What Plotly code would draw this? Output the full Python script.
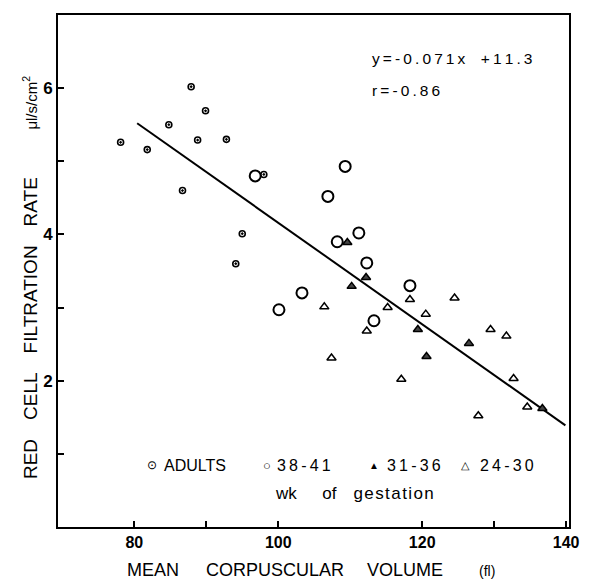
import plotly.graph_objects as go

# Adults
adult_x = [78.1, 81.8, 84.8, 87.9, 89.9, 88.8, 92.8, 86.7, 98.0, 95.0, 94.1]
adult_y = [5.26, 5.16, 5.50, 6.02, 5.69, 5.29, 5.30, 4.60, 4.82, 4.01, 3.60]

# 38-41 wk
term_x = [96.8, 109.3, 106.9, 111.2, 108.2, 112.3, 103.3, 100.1, 113.3, 118.3]
term_y = [4.80, 4.93, 4.52, 4.02, 3.90, 3.61, 3.20, 2.97, 2.82, 3.30]

# 31-36 wk
mid_x = [109.6, 110.2, 112.2, 119.4, 126.5, 136.7, 120.6]
mid_y = [3.89, 3.29, 3.41, 2.70, 2.51, 1.62, 2.33]

# 24-30 wk
pre_x = [106.4, 115.2, 112.3, 107.4, 118.3, 124.5, 120.5, 129.5, 131.7, 117.1, 132.7, 134.6, 127.8]
pre_y = [3.01, 3.00, 2.68, 2.31, 3.11, 3.13, 2.91, 2.70, 2.61, 2.02, 2.03, 1.64, 1.52]

# regression line endpoints
line_x = [80.4, 139.9]
line_y = [5.52, 1.39]

x_tickvals = [80, 100, 120, 140]
x_ticktext = ["<b>80</b>", "<b>100</b>", "<b>120</b>", "<b>140</b>"]
x_minor = [90, 130]
y_tickvals = [2, 4, 6]
y_ticktext = ["<b>2</b>", "<b>4</b>", "<b>6</b>"]
y_minor = [1, 3, 5]

FONT = "Liberation Sans, Arial, sans-serif"
EM, EN, TH = "\u2003", "\u2002", "\u2009"


def spaced(s, gap=TH):
    return gap.join(list(s))


fig = go.Figure()
fig.add_trace(go.Scatter(x=line_x, y=line_y, mode="lines",
                         line=dict(color="black", width=2), showlegend=False))
fig.add_trace(go.Scatter(x=adult_x, y=adult_y, mode="markers", name="ADULTS",
                         marker=dict(symbol="circle-dot", size=6, color="white",
                                     line=dict(color="black", width=1.6))))
fig.add_trace(go.Scatter(x=term_x, y=term_y, mode="markers", name="38-41",
                         marker=dict(symbol="circle-open", size=11, color="black",
                                     line=dict(width=2))))
fig.add_trace(go.Scatter(x=mid_x, y=mid_y, mode="markers", name="31-36",
                         marker=dict(symbol="triangle-up", size=8, color="#444",
                                     line=dict(color="black", width=1.5))))
fig.add_trace(go.Scatter(x=pre_x, y=pre_y, mode="markers", name="24-30",
                         marker=dict(symbol="triangle-up-open", size=8, color="black",
                                     line=dict(width=1.5))))

axis_common = dict(ticks="inside", ticklen=6, tickwidth=1.5, tickcolor="black",
                   showgrid=False, zeroline=False, showline=True, linewidth=2,
                   linecolor="black", mirror=True, automargin=False)

# page has an 8px body margin, so the figure is sized/offset to compensate
fig.update_layout(
    width=584, height=574,
    margin=dict(l=50, r=23, t=7, b=55),
    paper_bgcolor="white", plot_bgcolor="white",
    showlegend=False,
    font=dict(family=FONT, color="black", size=15),
    xaxis=dict(range=[69.4, 140.4], tickvals=x_tickvals, ticktext=x_ticktext,
               minor=dict(tickvals=x_minor, ticks="inside", ticklen=6, tickwidth=1.5,
                          tickcolor="black", showgrid=False),
               tickfont=dict(size=16, family=FONT), **axis_common),
    yaxis=dict(range=[0, 7], tickvals=y_tickvals, ticktext=y_ticktext,
               minor=dict(tickvals=y_minor, ticks="inside", ticklen=6, tickwidth=1.5,
                          tickcolor="black", showgrid=False),
               tickfont=dict(size=17, family=FONT), **axis_common),
)

xtitle = ("MEAN" + EM + EN + "CORPUSCULAR" + EM + " " + "VOLUME" + EM + EM
          + "<span style='font-size:14px'>(fl)</span>")
ytitle = ("RED" + EM + "CELL" + EM + "FILTRATION" + EM + "RATE" + EM + EM + EN
          + "<span style='font-size:15px'>\u03bcl/s/cm<sup>2</sup></span>")

annos = [
    dict(x=0.495, y=-0.084, text=xtitle, xanchor="center", yanchor="middle", font=dict(size=18)),
    dict(x=-0.055, y=0.488, text=ytitle, textangle=-90, xanchor="center", yanchor="middle",
         font=dict(size=19)),
    dict(x=0.61, y=0.916, text=spaced("y=-0.071x") + EM + spaced("+11.3"), xanchor="left",
         yanchor="middle", font=dict(size=15.5)),
    dict(x=0.61, y=0.852, text=spaced("r=-0.86"), xanchor="left", yanchor="middle",
         font=dict(size=15.5)),
    dict(x=0.184, y=0.121, text="\u2299", xanchor="center", yanchor="middle", font=dict(size=12)),
    dict(x=0.203, y=0.121, text="ADULTS", xanchor="left", yanchor="middle", font=dict(size=16)),
    dict(x=0.409, y=0.121, text="\u25cb", xanchor="center", yanchor="middle", font=dict(size=13)),
    dict(x=0.424, y=0.121, text=spaced("38-41"), xanchor="left", yanchor="middle", font=dict(size=16)),
    dict(x=0.618, y=0.121, text="\u25b2", xanchor="center", yanchor="middle", font=dict(size=10)),
    dict(x=0.640, y=0.121, text=spaced("31-36"), xanchor="left", yanchor="middle", font=dict(size=16)),
    dict(x=0.798, y=0.121, text="\u25b3", xanchor="center", yanchor="middle", font=dict(size=11)),
    dict(x=0.822, y=0.121, text=spaced("24-30"), xanchor="left", yanchor="middle", font=dict(size=16)),
    dict(x=0.421, y=0.066, text="wk" + EM + EN + "of" + EM + spaced("gestation", "\u200a"),
         xanchor="left", yanchor="middle", font=dict(size=17)),
]
for a in annos:
    fig.add_annotation(xref="paper", yref="paper", showarrow=False, **a)

fig.write_html("out.html")
